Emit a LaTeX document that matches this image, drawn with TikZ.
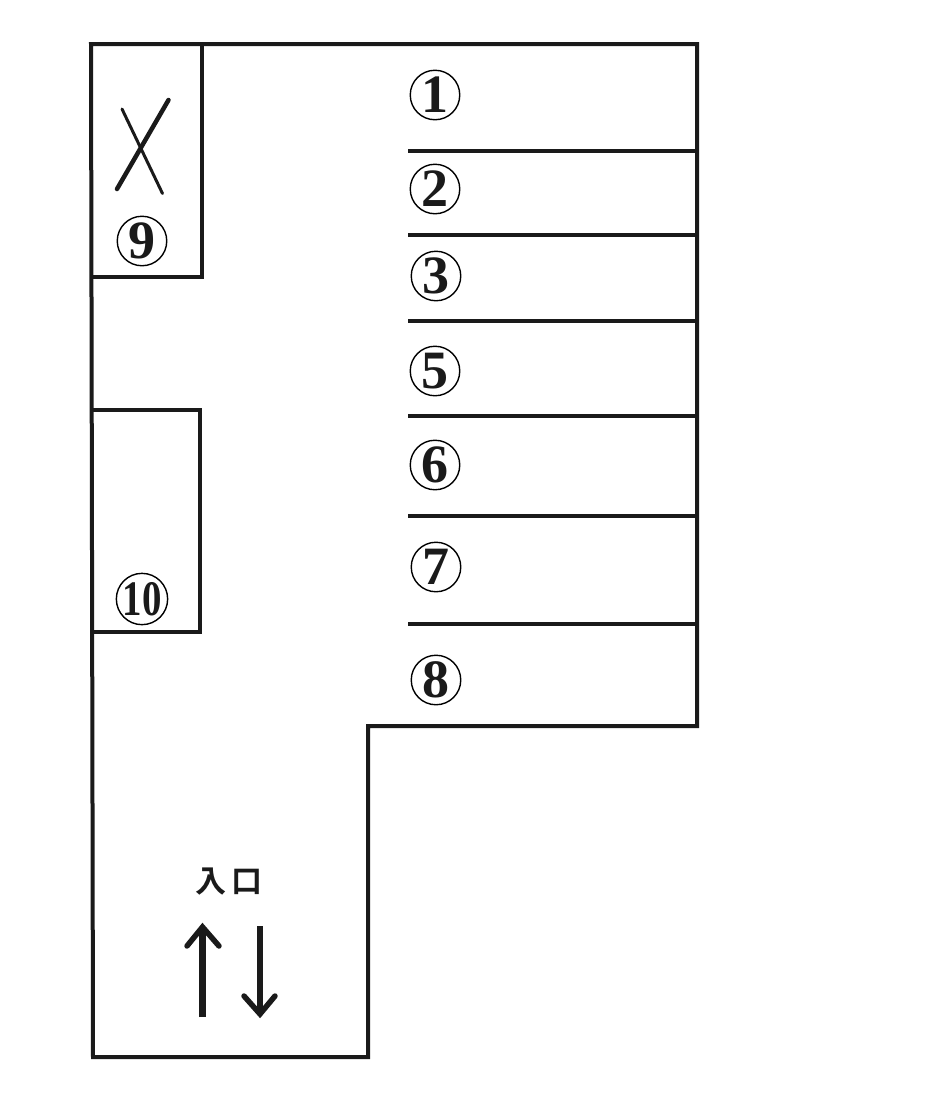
\documentclass[tikz,border=0pt]{standalone}
\usepackage{fontspec}
\setmainfont{Liberation Serif}
\newfontfamily\cjkfont{Noto Sans CJK JP}[BoldFont={* Bold}]
\definecolor{ink}{HTML}{1A1A1A}
\tikzset{
  wall/.style={draw=ink,line width=4pt,line cap=butt,line join=miter},
  divider/.style={draw=ink,line width=4pt},
  cross/.style={draw=ink,line cap=round},
  arrowline/.style={draw=ink,line width=6.5pt},
  arrowwing/.style={draw=ink,line width=5.5pt,line join=miter,line cap=round},
  slotno/.style={circle,draw=black,line width=1.4pt,minimum size=49.5pt,inner sep=0pt,text=ink,
    font=\fontsize{54pt}{54pt}\selectfont\bfseries},
}
\begin{document}
\begin{tikzpicture}[x=1pt,y=-1pt]
\useasboundingbox (0,0) rectangle (940,1101);
% outer wall
\draw[wall] (91,44) -- (697,44) -- (697,726) -- (368,726) -- (368,1057) -- (93,1057) -- cycle;
% side boxes
\draw[wall] (91,44) -- (202,44) -- (202,277) -- (92,277);
\draw[wall] (92,410) -- (200,410) -- (200,632) -- (92,632);
% bay dividers
\foreach \y in {151,235,321,416,516,624}
  \draw[divider] (408,\y) -- (697,\y);
% labels
\node[slotno] (n1) at (435,95) {1};
\node[slotno] (n2) at (435,189) {2};
\node[slotno] (n3) at (436,276) {3};
\node[slotno] (n5) at (435,371) {5};
\node[slotno] (n6) at (435,465) {6};
\node[slotno] (n7) at (436,567) {7};
\node[slotno] (n8) at (436,680) {8};
\node[slotno] (n9) at (142,241) {9};
\node[slotno] (n10) at (142,599) {\scalebox{0.72}[0.92]{10}};
% cross
\draw[cross,line width=3pt] (122,109) -- (162.5,193.5);
\draw[cross,line width=4.5pt] (168.5,100) -- (117,189);
% entrance
\node[font=\cjkfont\bfseries\fontsize{31pt}{31pt}\selectfont,text=ink] (entry) at (229,882) {入\hspace{5pt}口};
\coordinate (upA) at (202.5,1017);
\coordinate (upB) at (202.5,927);
\coordinate (upL) at (187,946);
\coordinate (upR) at (219,946);
\coordinate (dnA) at (260,926);
\coordinate (dnB) at (260,1014);
\coordinate (dnL) at (244,996);
\coordinate (dnR) at (275,996);
\draw[arrowline] (upA) -- (upB);
\draw[arrowwing] (upL) -- (upB) -- (upR);
\draw[arrowline] (dnA) -- (dnB);
\draw[arrowwing] (dnL) -- (dnB) -- (dnR);
\end{tikzpicture}
\end{document}
